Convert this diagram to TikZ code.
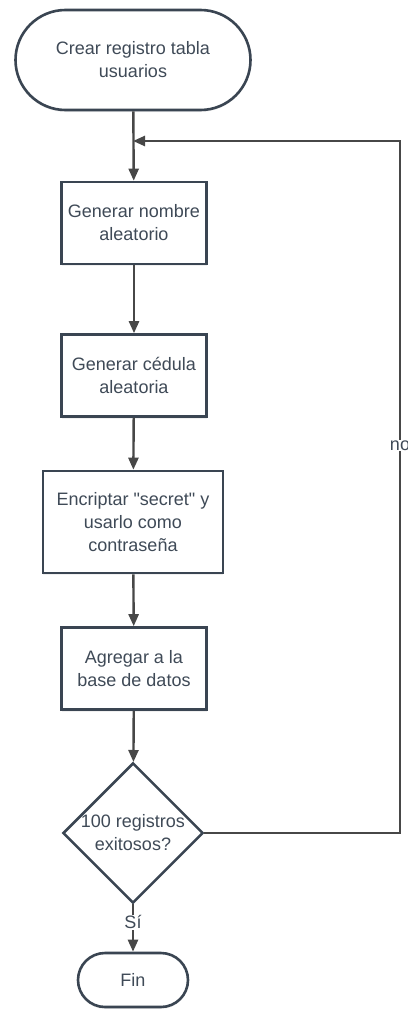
\documentclass[tikz,border=0pt]{standalone}
\usepackage{fontspec}
\setmainfont{Liberation Sans}
\usetikzlibrary{arrows.meta,shapes.geometric,shadows}
\definecolor{borde}{HTML}{3A4552}
\definecolor{texto}{HTML}{3F4A57}
\definecolor{linea}{HTML}{474747}
\tikzset{
    caja/.style={draw=borde,line width=2.6pt,fill=white,align=center,
        text=texto,minimum width=145pt,minimum height=82pt,inner sep=2pt,
        drop shadow={opacity=0.12,shadow xshift=0pt,shadow yshift=-2pt}},
    terminal/.style={caja,rounded corners=#1},
    decision/.style={caja,diamond,inner sep=0pt,minimum width=140pt,minimum height=137pt},
    flecha/.style={draw=linea,line width=2.4pt,-{Triangle[length=12pt,width=10pt]}},
    rotulo/.style={fill=white,text=texto,inner sep=1pt}
}
\begin{document}
\begin{tikzpicture}[x=1pt,y=-1pt,font=\fontsize{18}{23}\selectfont]
        \useasboundingbox (0,0) rectangle (407,1009);
        %% nodes
        \node[terminal=50pt,minimum width=235pt,minimum height=100pt] (inicio) at (133,60) {Crear registro tabla\\usuarios};
        \node[caja] (nombre) at (134,223) {Generar nombre\\aleatorio};
        \node[caja] (cedula) at (134,375.5) {Generar c\'edula\\aleatoria};
        \node[caja,minimum width=180pt,minimum height=102pt] (clave) at (133,522) {Encriptar \textquotedbl secret\textquotedbl{} y\\usarlo como\\contrase\~na};
        \node[caja] (agregar) at (134,668.5) {Agregar a la\\base de datos};
        \node[decision] (exito) at (133,833) {100 registros\\exitosos?};
        \node[terminal=27pt,minimum width=110pt,minimum height=54pt] (fin) at (133,980) {Fin};
        %% connectors
        \coordinate (union) at (inicio.south |- 0,141);
        \coordinate (esquina) at (400,0);
        \draw[flecha] (inicio) -- (nombre);
        \foreach \a/\b in {nombre/cedula,cedula/clave,clave/agregar,agregar/exito}
            \draw[flecha] (\a) -- (\b);
        \draw[flecha] (exito) -- node[rotulo,pos=0.38] {S\'i} (fin);
        \draw[flecha] (exito.east) -| (esquina |- union)
            node[rotulo,pos=0.78] {no} -- (union);
\end{tikzpicture}
\end{document}
